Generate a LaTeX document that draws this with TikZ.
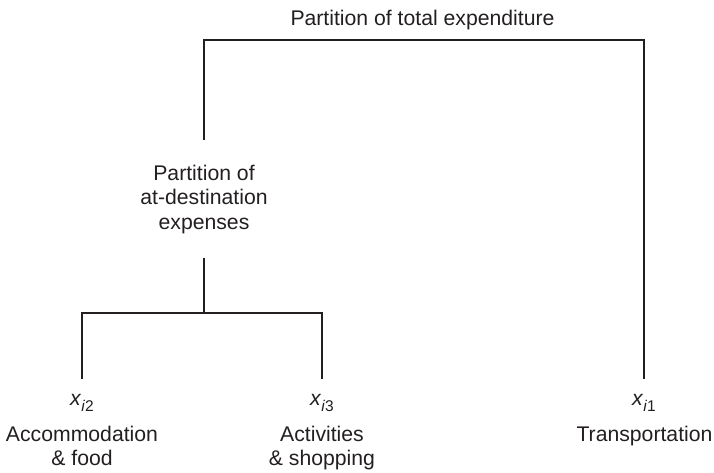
\documentclass[tikz,border=0pt]{standalone}
\usepackage{fontspec}
\setmainfont{Liberation Sans}
\definecolor{ink}{HTML}{231F20}
\newcommand{\xsub}[1]{\textit{x}\raisebox{-6.5pt}{\fontsize{15.5}{15.5}\selectfont\textit{i}#1}}
\begin{document}
\begin{tikzpicture}[x=1pt,y=-1pt,
  every node/.style={font=\fontsize{21.2}{24.5}\selectfont, text=ink, inner sep=0pt},
  conn/.style={draw=ink, line width=2.3pt, line join=miter}]
\useasboundingbox (0,0) rectangle (714,472);
\node[anchor=base] (title) at (422.5,25) {Partition of total expenditure};
\node[anchor=north, align=center] (mid) at (204,164.5) {Partition of\\at-destination\\expenses};
\node[anchor=base] (x2) at (82,405) {\xsub{2}};
\node[anchor=base] (x3) at (322,405) {\xsub{3}};
\node[anchor=base] (x1) at (644,405) {\xsub{1}};
\node[anchor=north, align=center] (acc) at (82,425.5) {Accommodation\\\& food};
\node[anchor=north, align=center] (act) at (322,425.5) {Activities\\\& shopping};
\node[anchor=north, align=center] (tra) at (644.5,425.5) {Transportation};
\coordinate (tl) at (204,40);
\coordinate (tr) at (644,40);
\coordinate (split) at (204,313);
\draw[conn] ([yshift=24.5pt]mid.north) -- (tl) -- (tr) -- ([yshift=15pt]x1.north);
\draw[conn] ([yshift=-24pt]mid.south) -- (split);
\draw[conn] ([yshift=15pt]x2.north) |- (split) -| ([yshift=15pt]x3.north);
\end{tikzpicture}
\end{document}
